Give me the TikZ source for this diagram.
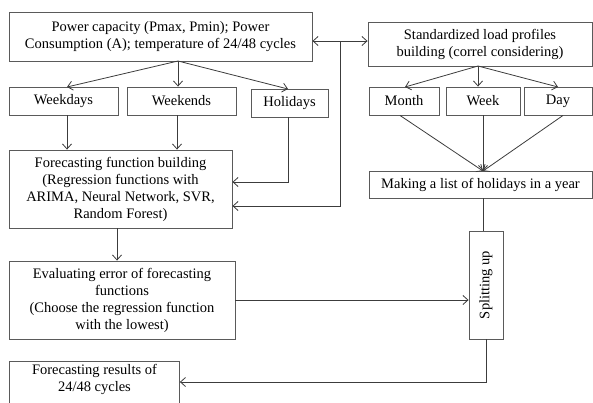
\documentclass[tikz,border=0pt]{standalone}
\usepackage{fontspec}
\setmainfont{Liberation Serif}
\usetikzlibrary{arrows.meta}
\usetikzlibrary{calc}
\usepackage{xcolor}

\definecolor{linegray}{HTML}{3C3C3C}
\definecolor{boxgray}{HTML}{5A5A5A}

\tikzset{
  txt/.style={align=center, inner sep=0pt, font=\fontsize{14.5}{17}\selectfont},
  box/.style={txt, draw=boxgray, line width=0.9pt},
  link/.style={draw=linegray, line width=0.8pt},
  arr/.style={link, -{Straight Barb[length=5pt,width=9pt]}},
}

\begin{document}
\begin{tikzpicture}[x=1pt,y=-1pt]

      % Frame
      \useasboundingbox (0,0) rectangle (593,402);
      \clip (0,0) rectangle (593,402);

      % Left column
      \node[box, minimum width=303, minimum height=49] (power) at (160.5,36.5)
        {Power capacity (Pmax, Pmin); Power\\Consumption (A); temperature of 24/48 cycles};
      \node[box, minimum width=109, minimum height=28] (weekdays) at (63.5,101) {Weekdays};
      \node[box, minimum width=109, minimum height=28] (weekends) at (181.5,101) {Weekends};
      \node[box, minimum width=77, minimum height=28] (holidays) at (289.5,103) {Holidays};
      \node[box, minimum width=223, minimum height=78] (forecast) at (120.5,189)
        {Forecasting function building\\(Regression functions with\\ARIMA, Neural Network, SVR,\\Random Forest)};
      \node[box, minimum width=226, minimum height=78] (evaluating) at (122,300)
        {Evaluating error of forecasting\\functions\\(Choose the regression function\\with the lowest)};
      \node[box, minimum width=170, minimum height=60, anchor=north west] (results) at (9,361) {};
      \node[txt, anchor=north] (resultstext) at ($(results.north)+(0,3)$)
        {Forecasting results of\\24/48 cycles};

      % Right column
      \node[box, minimum width=224, minimum height=44] (standard) at (480,44)
        {Standardized load profiles\\building (correl considering)};
      \node[box, minimum width=70, minimum height=28] (month) at (404,101) {Month};
      \node[box, minimum width=74, minimum height=28] (week) at (483,101) {Week};
      \node[box, minimum width=68, minimum height=28] (day) at (558,101) {Day};
      \node[box, minimum width=223, minimum height=27] (making) at (480.5,184.5)
        {Making a list of holidays in a year};
      \node[box, minimum width=108, minimum height=34, rotate=90] (splitting) at (486,285)
        {Splitting up};

      % Forks
      \coordinate (pfork) at (178,61);
      \draw[arr] (pfork) -- (67,87);
      \draw[arr] (pfork) -- (weekends.north -| pfork);
      \draw[arr] (pfork) -- (288,89);
      \coordinate (sfork) at (478,66);
      \draw[arr] (sfork) -- (405,87);
      \draw[arr] (sfork) -- (sfork |- week.north);
      \draw[arr] (sfork) -- (558,87);

      % Link between the two columns
      \coordinate (bus) at (340,41);
      \draw[arr] (bus) -- (power.east |- bus);
      \draw[arr] (bus) -- (standard.west |- bus);
      \draw[arr] (bus) |- ($(forecast.east)+(0,17)$);

      % Down the left column
      \draw[arr] (weekdays.south -| 67,0) -- (forecast.north -| 67,0);
      \draw[arr] (weekends.south -| 177,0) -- (forecast.north -| 177,0);
      \draw[arr] (holidays.south -| 288,0) |- ($(forecast.east)+(0,-7)$);
      \draw[arr] (forecast.south -| 117,0) -- (evaluating.north -| 117,0);

      % Down the right column
      \coordinate (mjoin) at (483,171);
      \draw[arr] (month.south -| 400,0) -- (mjoin);
      \draw[arr] (week.south -| mjoin) -- (mjoin);
      \draw[arr] (day.south -| 563,0) -- (mjoin);
      \draw[link] (making.south -| mjoin) -- (splitting.east -| mjoin);

      % Results
      \draw[arr] (evaluating.east) -- (splitting.north |- evaluating.east);
      \draw[arr] (splitting.west) |- (results.east |- 0,382);

  \end{tikzpicture}
\end{document}
